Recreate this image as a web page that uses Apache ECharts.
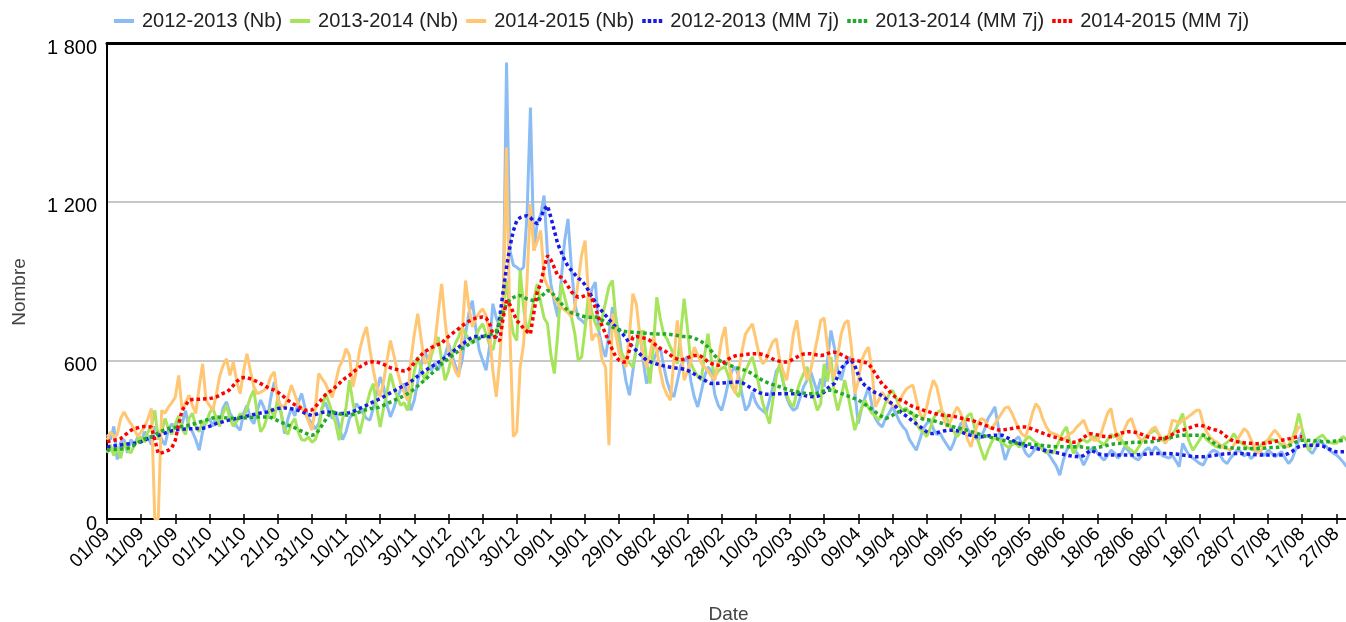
<!DOCTYPE html>
<html><head><meta charset="utf-8">
<script src="https://cdn.jsdelivr.net/npm/echarts@6/dist/echarts.min.js"></script>
<style>html,body{margin:0;padding:0;background:#fff}#c{width:1346px;height:622px}</style>
</head><body><div id="c"></div>
<script>
// Month lengths from September to August (non-leap years) used to label the 365 days
const startMonth = 9;
const monthLengths = [30,31,30,31,31,28,31,30,31,30,31,31];
const seriesNames = ['2012-2013 (Nb)','2013-2014 (Nb)','2014-2015 (Nb)','2012-2013 (MM 7j)','2013-2014 (MM 7j)','2014-2015 (MM 7j)'];
const yTicks = [0, 600, 1200, 1800];

const nb1213 = [
320,300,350,225,290,300,250,300,280,310,
290,330,310,280,350,330,300,280,340,360,
340,380,360,410,350,330,300,260,330,370,
380,350,390,360,420,443,400,380,350,336,
400,430,380,360,410,450,420,380,460,518,
470,400,323,380,420,390,440,474,420,380,
361,340,361,420,440,405,380,400,350,300,
330,380,400,436,420,400,380,374,420,480,
537,500,430,386,420,460,490,512,470,411,
450,520,580,638,600,560,590,562,600,620,
663,620,580,550,600,700,780,826,720,638,
600,562,650,814,760,726,780,1726,1015,960,
952,940,952,1150,1556,1015,1120,1150,1223,1000,
889,820,764,900,1050,1135,950,814,760,751,
738,800,870,896,713,650,613,700,801,760,
688,600,520,468,560,650,713,600,512,560,
600,630,650,580,520,480,462,520,580,600,
613,520,460,424,480,540,575,560,470,430,
411,460,520,560,575,540,470,411,430,480,
440,420,410,399,450,500,560,575,520,460,
430,411,420,460,500,525,560,520,480,530,
500,600,713,650,560,525,580,600,613,480,
361,420,460,499,430,380,360,348,380,400,
424,400,370,350,336,300,280,260,300,340,
360,374,340,320,323,300,280,260,290,330,
360,374,340,320,311,300,311,340,380,400,
424,350,280,223,260,290,300,311,280,250,
235,250,270,280,270,260,240,220,200,166,
220,260,280,273,250,235,204,230,260,273,
250,235,223,240,260,250,230,245,273,260,
240,230,223,240,260,270,250,273,260,240,
235,230,240,220,198,286,260,240,230,220,
210,204,230,250,260,255,240,220,210,230,
245,262,254,238,250,228,242,265,250,240,
260,250,235,245,255,230,210,225,260,300,
330,290,260,248,270,300,286,275,260,250,
242,230,215,198,210];

const nb1314 = [
250,280,240,270,230,290,260,250,280,300,
310,290,330,350,411,300,330,380,340,320,
360,390,340,320,380,400,350,330,370,360,
400,420,380,350,400,430,380,350,370,400,
380,420,460,487,400,330,350,390,420,380,
461,400,340,320,360,380,330,300,298,310,
290,300,340,420,474,440,400,360,298,380,
420,525,440,380,323,380,430,480,512,420,
348,420,480,550,500,460,430,440,411,470,
560,613,570,525,560,620,660,688,600,525,
560,620,663,690,726,700,680,663,690,720,
738,700,660,638,700,760,801,900,780,700,
675,940,800,700,760,830,889,820,760,738,
620,550,700,889,840,790,764,700,600,613,
720,851,780,740,713,760,820,880,902,760,
650,620,600,590,575,640,700,713,600,512,
650,839,760,700,680,650,620,587,700,833,
720,587,560,540,525,620,701,600,537,560,
570,575,540,500,480,462,520,560,590,613,
560,500,440,400,361,450,540,587,520,470,
440,424,480,520,550,575,520,460,411,436,
587,520,613,470,411,460,525,470,400,336,
380,420,449,420,400,390,374,400,440,470,
487,460,430,410,420,400,399,360,340,330,
311,340,380,400,411,400,380,350,330,311,
330,360,390,399,350,300,260,223,260,290,
311,300,290,280,270,280,290,273,280,300,
311,300,290,280,260,250,260,248,270,300,
330,348,290,248,270,298,300,290,300,311,
300,290,280,300,320,310,323,300,280,270,
260,248,270,290,310,320,330,336,320,300,
311,300,320,340,370,399,330,290,260,280,
300,323,300,290,280,273,270,280,290,300,
323,300,290,280,270,265,260,270,280,290,
298,300,298,290,280,270,280,300,340,399,
340,290,260,280,300,310,317,300,290,286,
286,300,311,300,290];

const nb1415 = [
299,330,310,320,380,405,380,361,340,311,
330,348,380,418,0,0,411,400,424,440,
461,543,411,440,468,430,399,500,587,449,
430,411,470,540,580,606,543,594,520,474,
560,625,560,500,474,480,487,500,540,556,
449,430,424,460,506,470,436,420,399,370,
336,420,550,530,512,480,461,520,575,600,
644,619,499,560,640,690,726,640,562,500,
462,520,600,675,620,560,512,480,449,600,
700,776,680,587,600,640,663,780,889,750,
638,600,560,537,700,902,800,726,760,780,
795,770,700,560,462,600,800,1405,700,311,
330,575,663,900,1191,1015,1050,1091,914,880,
860,840,814,800,790,780,764,800,900,1000,
1053,850,675,700,688,600,575,279,776,700,
625,600,575,700,852,814,700,620,575,620,
688,640,560,500,470,449,600,751,650,525,
560,600,650,620,590,575,560,540,525,600,
680,726,600,520,474,560,640,700,720,738,
680,620,587,600,640,670,682,600,560,525,
600,700,751,650,580,525,560,620,680,751,
760,650,560,537,620,700,740,751,650,474,
520,600,630,650,560,424,450,480,460,440,
430,424,440,470,490,500,506,450,400,374,
420,480,525,500,440,380,348,370,400,424,
400,350,300,273,320,360,380,374,350,340,
360,380,400,420,424,400,370,340,320,311,
350,400,436,420,380,350,330,323,320,310,
300,310,323,330,348,360,374,340,310,298,
298,320,360,400,418,350,298,310,340,370,
380,340,310,298,300,320,340,348,320,300,
286,320,374,370,360,374,380,390,400,411,
411,361,330,310,298,290,280,270,265,260,
280,300,320,342,330,300,270,248,260,280,
300,320,336,320,300,280,273,290,320,348,
348];

const mm1213 = [
273,274,276,278,280,282,284,285,286,288,
292,298,304,309,311,315,320,325,330,334,
336,338,339,340,341,341,342,342,343,345,
350,355,361,365,368,372,375,378,381,384,
386,389,392,395,398,401,403,405,410,415,
418,419,420,419,417,414,411,406,400,395,
392,395,399,403,405,404,402,400,399,399,
399,402,406,412,418,424,430,437,443,449,
455,462,470,477,484,491,498,505,512,520,
530,540,550,560,568,576,584,592,600,610,
620,630,640,650,660,670,680,688,690,690,
690,690,689,688,688,760,860,952,1030,1090,
1128,1140,1145,1147,1140,1125,1116,1140,1170,1185,
1140,1090,1040,1010,980,955,940,925,910,902,
885,864,840,820,801,785,770,755,740,726,
715,700,685,663,650,637,625,612,600,595,
590,586,582,579,576,574,572,570,569,566,
562,555,548,540,532,525,518,512,512,513,
514,515,516,517,518,518,515,508,500,492,
485,478,474,472,472,473,474,474,474,474,
474,474,474,471,468,465,463,462,464,470,
480,493,505,512,540,569,585,595,600,580,
545,518,505,495,485,478,474,465,455,445,
435,425,410,399,390,380,370,360,350,340,
330,323,323,326,330,333,335,336,336,334,
330,325,320,316,313,311,311,312,314,316,
317,317,317,312,305,298,292,286,281,277,
273,270,267,264,261,258,256,254,251,248,
245,242,239,237,236,235,240,250,260,255,
248,244,242,242,242,242,242,242,242,242,
242,242,243,244,245,246,247,248,248,248,
248,248,247,246,244,242,240,238,236,235,
235,235,236,238,240,242,244,246,247,248,
248,248,248,247,246,245,244,243,242,242,
242,242,242,242,242,243,248,255,265,273,
276,278,279,279,279,279,276,270,264,258,
254,254,254,254,254];

const mm1314 = [
260,262,263,264,265,266,267,272,280,288,
296,303,308,311,318,325,332,338,342,344,
346,348,350,352,355,358,362,366,370,374,
378,382,386,385,384,382,381,380,380,381,
382,383,384,385,386,386,386,386,384,378,
372,366,360,355,350,345,338,332,326,320,
317,320,335,355,375,395,405,402,398,395,
393,392,395,400,405,410,414,418,418,420,
424,430,436,442,448,454,460,466,474,482,
492,503,514,525,537,549,561,573,587,597,
607,617,627,636,645,653,661,669,676,683,
689,694,698,700,710,740,780,814,830,838,
843,845,840,832,828,826,830,840,852,864,
860,845,830,815,800,788,780,776,772,768,
765,763,763,764,760,752,744,736,726,720,
715,711,708,707,706,705,704,703,702,701,
700,700,700,700,699,698,696,694,692,690,
689,688,684,678,671,663,650,635,618,603,
594,588,583,578,573,569,565,562,556,548,
540,532,524,518,512,508,504,500,496,491,
487,484,481,478,476,474,474,474,476,480,
484,487,487,485,480,475,470,465,460,455,
450,442,433,424,415,405,395,387,380,385,
392,400,406,410,411,405,398,390,383,378,
375,374,372,368,364,360,356,352,348,345,
342,338,335,331,327,323,318,314,311,308,
305,302,299,296,293,290,288,286,285,284,
283,282,280,279,278,276,275,273,273,273,
273,273,273,273,273,273,271,269,267,268,
270,273,276,279,282,284,285,286,287,288,
289,290,290,291,291,292,292,295,298,301,
304,307,310,313,315,317,317,317,317,317,
317,317,312,300,288,280,273,271,270,269,
268,268,267,267,267,267,267,267,268,268,
269,270,270,271,272,273,276,282,290,296,
298,298,297,296,295,294,292,292,293,294,
295,296,297,298,298];

const mm1415 = [
292,295,298,300,304,315,325,335,342,345,
349,350,349,348,300,248,250,255,260,270,
298,360,411,430,449,452,453,453,454,455,
455,458,462,468,475,480,490,505,520,531,
535,535,530,525,519,512,505,498,492,487,
480,470,460,449,440,432,425,418,411,412,
412,424,440,455,470,480,487,500,512,525,
535,543,555,565,575,582,590,594,595,594,
590,585,578,572,568,565,562,560,562,575,
590,605,620,632,640,648,655,660,663,680,
690,700,710,720,730,740,748,755,760,762,
764,760,740,700,680,675,760,826,810,780,
750,738,720,710,700,780,860,889,950,996,
980,950,920,914,900,880,860,845,839,840,
845,851,833,800,760,730,700,670,640,613,
600,594,594,640,688,690,688,685,682,675,
665,655,645,638,630,620,610,605,600,605,
610,615,618,619,615,605,595,588,583,581,
585,595,605,612,617,619,620,622,624,625,
625,625,622,618,612,605,600,596,594,594,
598,605,612,620,624,625,625,623,620,618,
620,625,630,631,628,622,615,608,602,600,
598,595,592,587,570,550,530,510,499,485,
470,460,452,449,440,432,425,420,418,412,
408,404,400,397,394,392,392,390,388,385,
382,378,376,374,370,365,360,355,350,345,
340,337,336,338,340,342,345,347,348,348,
345,340,335,330,325,320,315,311,308,305,
300,296,292,290,292,298,308,318,323,320,
318,315,312,311,311,314,320,325,328,330,
330,328,325,320,315,310,306,304,304,304,
306,312,320,328,333,336,340,345,350,354,
355,352,348,342,338,336,330,320,310,300,
294,292,290,288,287,286,285,285,286,286,
288,290,293,296,298,300,303,306,309,311,
311];

// date categories dd/mm
const dates = [];
monthLengths.forEach((len, i) => {
  const m = ((startMonth - 1 + i) % 12) + 1;
  for (let d = 1; d <= len; d++) dates.push(String(d).padStart(2,'0') + '/' + String(m).padStart(2,'0'));
});

const FONT = "'Liberation Sans', Arial, sans-serif";
const fmt = v => String(v).replace(/\B(?=(\d{3})+(?!\d))/g, ' ');

const rawColors = ['#8cbcf4', '#a6e45c', '#ffc774'];
const mmColors = ['#1a1ae6', '#22a82a', '#ff0000'];
const rawData = [nb1213, nb1314, nb1415];
const mmData = [mm1213, mm1314, mm1415];

const ICON_SOLID = 'path://M0,0H20V4H0Z';
const ICON_DOTTED = 'path://M0,0h3.5v4h-3.5zM5.5,0h3.5v4h-3.5zM11,0h3.5v4h-3.5zM16.5,0h3.5v4h-3.5z';

const series = [];
rawData.forEach((d, i) => series.push({
  name: seriesNames[i], type: 'line', data: d, symbol: 'none', showSymbol: false,
  lineStyle: { color: rawColors[i], width: 3 }, itemStyle: { color: rawColors[i] },
  z: 2, silent: true
}));
mmData.forEach((d, i) => series.push({
  name: seriesNames[3 + i], type: 'line', data: d, symbol: 'none', showSymbol: false,
  lineStyle: { color: mmColors[i], width: 3.5, type: [3.5, 3], cap: 'butt' }, itemStyle: { color: mmColors[i] },
  z: 3, silent: true
}));

const chart = echarts.init(document.getElementById('c'), null, { renderer: 'canvas' });
chart.setOption({
  animation: false,
  backgroundColor: '#fff',
  textStyle: { fontFamily: FONT },
  legend: {
    left: 109, top: 6, itemWidth: 20, itemHeight: 4, itemGap: 8,
    textStyle: { fontSize: 20, color: '#222', fontFamily: FONT, padding: [0, 0, 0, 3] },
    data: seriesNames.map((n, i) => ({ name: n, icon: i < 3 ? ICON_SOLID : ICON_DOTTED }))
  },
  grid: { left: 107, right: -4, top: 43, bottom: 103, containLabel: false, outerBoundsMode: 'none' },
  xAxis: [
    {
      type: 'category', data: dates, boundaryGap: false, position: 'bottom',
      name: 'Date', nameLocation: 'middle', nameGap: 86,
      nameTextStyle: { fontSize: 19, color: '#444', fontFamily: FONT },
      axisLine: { lineStyle: { color: '#000', width: 2 } },
      axisTick: { show: true, interval: 9, length: 5, lineStyle: { color: '#000', width: 1.5 } },
      axisLabel: { interval: 9, rotate: 45, fontSize: 19, color: '#000', margin: 12, fontFamily: FONT },
      splitLine: { show: false }
    },
    {
      type: 'category', data: dates, boundaryGap: false, position: 'bottom',
      axisLine: { show: false }, axisLabel: { show: false }, splitLine: { show: false },
      axisTick: { show: true, inside: true, interval: 9, length: 5, lineStyle: { color: '#000', width: 1.5 } }
    },
    {
      type: 'category', data: dates, boundaryGap: false, position: 'top', z: 5,
      axisLine: { lineStyle: { color: '#000', width: 3 } },
      axisTick: { show: false }, axisLabel: { show: false }, splitLine: { show: false }
    }
  ],
  yAxis: {
    type: 'value', min: yTicks[0], max: yTicks[yTicks.length - 1], interval: yTicks[1] - yTicks[0],
    name: 'Nombre', nameLocation: 'middle', nameGap: 78, nameRotate: 90,
    nameTextStyle: { fontSize: 19, color: '#444', fontFamily: FONT, padding: [0, 22, 0, 0] },
    axisLine: { show: true, lineStyle: { color: '#000', width: 2 } },
    axisTick: { show: false },
    axisLabel: { fontSize: 20, color: '#000', margin: 10, formatter: fmt, fontFamily: FONT, verticalAlign: 'top', lineHeight: 10 },
    splitLine: { show: true, lineStyle: { color: '#c8c8c8', width: 2 } }
  },
  series: series
});
</script></body></html>
